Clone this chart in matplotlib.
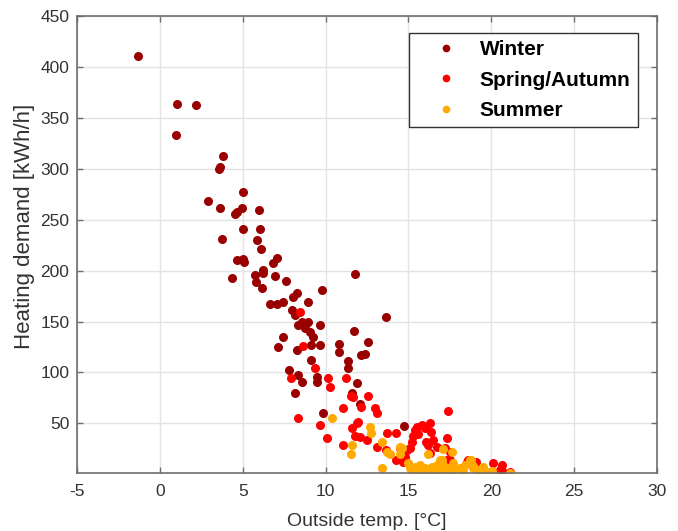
import matplotlib
matplotlib.use("Agg")
import matplotlib.pyplot as plt

# ---- data ----
winter_x = [-1.29, 1.04, 2.17, 0.97, 3.82, 3.58, 3.62, 5.03, 2.91, 3.62, 4.97, 4.53, 4.63, 5.96,
            5.03, 6.03, 3.78, 5.87, 6.08, 4.63, 5.03, 5.07, 6.84, 7.04, 6.23, 4.33, 5.73, 6.20,
            5.79, 6.14, 6.94, 7.59, 6.64, 7.04, 7.44, 8.25, 8.04, 8.95, 9.76, 7.95, 8.15, 8.55,
            8.95, 8.35, 8.75, 9.05, 9.25, 9.66, 7.44, 9.15, 9.66, 7.14, 8.25, 9.15, 7.80, 8.35,
            8.55, 9.46, 9.46, 8.15, 9.85, 10.82, 10.82, 11.77, 11.71, 11.36, 11.36, 11.87, 11.57,
            12.07, 12.56, 12.16, 12.36, 13.64, 14.72]
winter_y = [410.5, 363.7, 362.3, 333.5, 312.8, 299.8, 301.7, 277.2, 267.9, 261.0, 261.0, 255.8, 257.5, 260.0,
            240.8, 240.8, 231.2, 230.3, 221.1, 210.6, 211.3, 208.3, 207.4, 212.3, 200.8, 193.2, 195.9, 198.1,
            189.3, 182.8, 194.9, 190.3, 167.0, 167.0, 169.6, 177.9, 174.5, 169.6, 181.1, 161.4, 156.5, 149.9,
            149.9, 146.7, 143.4, 140.1, 135.2, 146.7, 135.2, 127.0, 127.0, 125.4, 122.1, 112.3, 102.4, 97.5,
            90.9, 95.9, 90.9, 80.1, 59.9, 128.0, 120.4, 196.8, 140.8, 111.6, 104.1, 89.4, 79.5,
            69.0, 130.3, 117.2, 118.2, 154.3, 47.7]

spring_x = [8.45, 8.65, 9.35, 7.89, 8.31, 9.66, 10.06, 10.16, 10.26, 11.21, 11.53, 11.67, 12.11, 11.06,
            12.57, 12.99, 13.08, 11.97, 11.57, 11.77, 12.07, 12.47, 11.06, 13.08, 13.68, 14.28, 13.64,
            14.48, 14.28, 14.68, 14.89, 15.09, 15.19, 14.78, 14.68, 15.49, 15.79, 16.29, 16.34, 15.39,
            15.99, 16.09, 16.49, 16.70, 17.30, 17.20, 17.36, 17.50, 17.50, 17.30, 16.19, 16.29, 18.51,
            18.60, 19.10, 20.11, 20.62, 20.52, 21.12, 20.72, 11.87, 15.29, 15.59]
spring_y = [159.8, 126.0, 104.1, 94.9, 55.0, 48.4, 35.3, 94.3, 85.4, 94.9, 77.2, 76.2, 66.4, 64.8,
            77.2, 64.8, 59.9, 51.6, 45.1, 37.6, 36.9, 33.6, 28.7, 27.0, 40.2, 40.8, 23.8,
            25.5, 14.0, 20.5, 23.8, 25.5, 32.0, 17.2, 12.3, 46.7, 48.4, 50.0, 41.8, 43.5,
            45.1, 32.0, 33.6, 27.0, 35.3, 25.5, 62.1, 22.1, 14.0, 14.0, 28.7, 20.5, 12.3,
            14.0, 12.3, 10.7, 9.0, 4.1, 2.5, 2.5, 50.6, 38.0, 40.0]

summer_x = [10.40, 11.57, 11.51, 12.67, 12.72, 13.38, 13.68, 13.88, 14.48, 14.48, 14.59, 13.38, 16.19,
            17.10, 17.60, 14.98, 15.09, 15.39, 15.69, 15.99, 16.09, 16.40, 16.70, 16.90, 16.90, 17.10,
            17.30, 17.70, 18.10, 18.41, 18.71, 18.91, 19.21, 19.51, 19.72, 20.02, 21.12, 17.00, 17.70,
            18.80, 15.27, 15.57, 16.47, 17.38, 18.29, 18.89, 15.80, 19.40]
summer_y = [55.0, 28.7, 19.9, 46.7, 40.8, 31.4, 22.1, 19.9, 27.0, 19.9, 25.5, 5.8, 19.9,
            24.8, 22.1, 10.7, 5.8, 7.4, 9.0, 5.8, 2.5, 7.4, 9.0, 14.0, 4.1, 9.0,
            5.8, 4.1, 5.8, 9.0, 14.0, 5.8, 4.1, 7.4, 2.5, 3.4, 1.5, 14.0, 10.7,
            14.0, 3.1, 2.2, 2.2, 3.1, 3.1, 8.3, 4.0, 2.0]

series_labels = ["Winter", "Spring/Autumn", "Summer"]
x_ticks = [-5, 0, 5, 10, 15, 20, 25, 30]
y_ticks = [50, 100, 150, 200, 250, 300, 350, 400, 450]

colors = ["#990000", "#ff0000", "#ffaa00"]

plt.rcParams['font.family'] = ['Liberation Sans', 'DejaVu Sans']
plt.rcParams['axes.unicode_minus'] = False

fig = plt.figure(figsize=(6.78, 5.31), dpi=100)
ax = fig.add_axes([77/678, 1 - 473.3/531, 580/678, (473.3 - 16)/531])

for xs, ys, c, lab in zip([winter_x, spring_x, summer_x], [winter_y, spring_y, summer_y], colors, series_labels):
    ax.plot(xs, ys, linestyle='none', marker='o', markersize=6.5, color=c,
            markeredgewidth=0, label=lab)

ax.set_xlim(-5, 30)
ax.set_ylim(1, 450)
ax.set_xticks(x_ticks)
ax.set_yticks(y_ticks)
ax.grid(True, color='#e3e3e3', linewidth=1.0)
ax.set_axisbelow(True)
for s in ax.spines.values():
    s.set_color('#6e6e6e')
    s.set_linewidth(1.2)
ax.tick_params(direction='in', top=True, right=True, length=4, width=1.0,
               color='#6e6e6e', labelcolor='#333333', labelsize=12.5, pad=5.5)
ax.tick_params(axis='x', pad=8)

ax.set_xlabel("Outside temp. [°C]", fontsize=14, color='#333333', labelpad=10)
ax.set_ylabel("Heating demand [kWh/h]", fontsize=16, color='#333333')
ax.yaxis.set_label_coords(-0.0897, 0.539)
ax.yaxis.label.set_verticalalignment('center')

leg = ax.legend(loc='upper right', bbox_to_anchor=(0.967, 0.963), borderaxespad=0,
                fancybox=False, edgecolor='#333333', framealpha=1,
                prop={'weight': 'bold', 'size': 15}, markerscale=0.85,
                handlelength=2.9, handletextpad=0.15, labelspacing=0.55,
                borderpad=0.35)
leg.get_frame().set_linewidth(1.0)

fig.savefig("out.png", dpi=100)
